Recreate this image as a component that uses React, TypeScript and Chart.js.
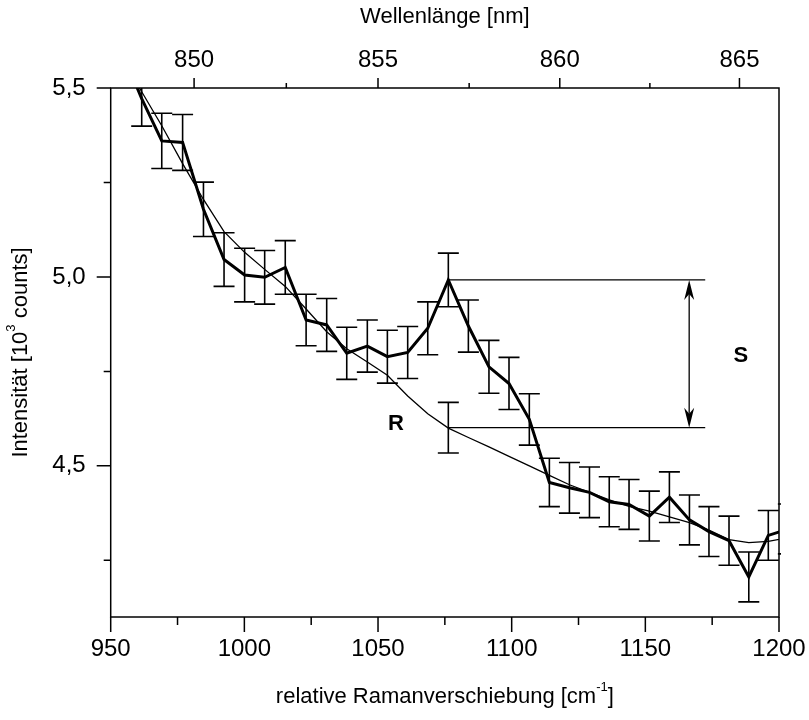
import { useEffect, useRef } from 'react';
import { Chart, registerables } from 'chart.js';

Chart.register(...registerables);

// ---- data ----
const ramanShift = [
  954.0, 961.6, 969.1, 976.9, 984.7, 992.4, 1000.1, 1007.6, 1015.3, 1023.1, 1030.8,
  1038.3, 1046.0, 1053.5, 1061.1, 1068.6, 1076.3, 1083.8, 1091.5, 1099.0, 1106.6,
  1114.1, 1121.6, 1129.1, 1136.5, 1143.9, 1151.5, 1159.0, 1166.5, 1173.8, 1181.3,
  1188.7, 1196.0, 1203.5,
];
const intensity = [
  5.60, 5.472, 5.36, 5.356, 5.179, 5.046, 5.005, 4.999, 5.025, 4.886, 4.873,
  4.798, 4.817, 4.789, 4.800, 4.864, 4.992, 4.870, 4.762, 4.718, 4.623,
  4.456, 4.442, 4.430, 4.405, 4.398, 4.367, 4.417, 4.357, 4.326, 4.302,
  4.206, 4.316, 4.333,
];
const intensityError = [
  0.075, 0.073, 0.073, 0.074, 0.072, 0.071, 0.071, 0.071, 0.071, 0.068, 0.070,
  0.069, 0.069, 0.070, 0.069, 0.070, 0.071, 0.069, 0.070, 0.069, 0.068,
  0.064, 0.067, 0.067, 0.066, 0.066, 0.066, 0.067, 0.066, 0.066, 0.065,
  0.066, 0.066, 0.066,
];
const baselineFit = [
  5.58, 5.49, 5.40, 5.30, 5.205, 5.12, 5.065, 5.02, 4.975, 4.915, 4.855,
  4.81, 4.775, 4.74, 4.685, 4.638, 4.60, 4.575, 4.55, 4.525, 4.50,
  4.475, 4.45, 4.43, 4.41, 4.393, 4.38, 4.365, 4.35, 4.33, 4.305,
  4.297, 4.30, 4.31,
];

const shiftMajorTicks = [950, 1000, 1050, 1100, 1150, 1200];
const shiftMinorTicks = [975, 1025, 1075, 1125, 1175];
const intensityMajorTicks = [4.5, 5.0, 5.5];
const intensityMinorTicks = [4.25, 4.75, 5.25];
const wavelengthMajorTicks = [850, 855, 860, 865];
const wavelengthMinorTicks = [852.5, 857.5, 862.5];
const laserWavenumber = 12745.9; // cm^-1 (excitation ~784.6 nm)

const peakShift = 1076.3;
const peakIntensity = 4.992;
const baselineIntensity = 4.601;
const baselineError = 0.067;
const markerEndShift = 1172.4;
const arrowShift = 1166.4;
const labelR = { x: 1056.7, y: 4.611, text: 'R' };
const labelS = { x: 1185.7, y: 4.792, text: 'S' };

const FONT = "'Liberation Sans', Arial, Helvetica, sans-serif";
const TICK_FS = 24;
const TITLE_FS = 22;

const wavelengthToShift = (nm: number) => laserWavenumber - 1e7 / nm;
const fmtComma = (v: number) => v.toFixed(1).replace('.', ',');

type Part = { t: string; sup?: boolean };

function richWidth(ctx: CanvasRenderingContext2D, parts: Part[], size: number) {
  let w = 0;
  for (const p of parts) {
    ctx.font = `${p.sup ? Math.round(size * 0.6) : size}px ${FONT}`;
    w += ctx.measureText(p.t).width;
  }
  return w;
}

function drawRich(ctx: CanvasRenderingContext2D, parts: Part[], cx: number, cy: number, size: number, rotate: boolean) {
  ctx.save();
  ctx.translate(cx, cy);
  if (rotate) ctx.rotate(-Math.PI / 2);
  const w = richWidth(ctx, parts, size);
  let x = -w / 2;
  ctx.fillStyle = '#000';
  ctx.textBaseline = 'middle';
  ctx.textAlign = 'left';
  for (const p of parts) {
    const s = p.sup ? Math.round(size * 0.6) : size;
    ctx.font = `${s}px ${FONT}`;
    ctx.fillText(p.t, x, p.sup ? -size * 0.42 : 0);
    x += ctx.measureText(p.t).width;
  }
  ctx.restore();
}

const errorBarPlugin = {
  id: 'errorBars',
  beforeDatasetsDraw(chart: any) {
    const { ctx, chartArea: a, scales } = chart;
    const xs = scales.x;
    const ys = scales.y;
    const cap = 10.5;
    ctx.save();
    ctx.beginPath();
    ctx.rect(a.left, a.top, a.right - a.left + 2, a.bottom - a.top);
    ctx.clip();
    ctx.strokeStyle = '#000';
    ctx.lineWidth = 1.6;
    const bar = (sx: number, v: number, e: number) => {
      const px = xs.getPixelForValue(sx);
      const t = ys.getPixelForValue(v + e);
      const b = ys.getPixelForValue(v - e);
      ctx.beginPath();
      ctx.moveTo(px, t);
      ctx.lineTo(px, b);
      ctx.moveTo(px - cap, t);
      ctx.lineTo(px + cap, t);
      ctx.moveTo(px - cap, b);
      ctx.lineTo(px + cap, b);
      ctx.stroke();
    };
    ramanShift.forEach((sx, i) => bar(sx, intensity[i], intensityError[i]));
    bar(peakShift, baselineIntensity, baselineError);
    ctx.restore();
  },
};

const decorPlugin = {
  id: 'decor',
  afterDraw(chart: any) {
    const { ctx, chartArea: a, scales } = chart;
    const xs = scales.x;
    const ys = scales.y;
    ctx.save();
    ctx.strokeStyle = '#000';
    ctx.fillStyle = '#000';

    // frame
    ctx.lineWidth = 1.5;
    ctx.strokeRect(a.left, a.top, a.right - a.left, a.bottom - a.top);

    // ticks
    ctx.lineWidth = 1.5;
    ctx.beginPath();
    const tickX = (v: number, len: number, top: boolean) => {
      const px = xs.getPixelForValue(v);
      const y0 = top ? a.top : a.bottom;
      ctx.moveTo(px, y0);
      ctx.lineTo(px, top ? y0 - len : y0 + len);
    };
    shiftMajorTicks.forEach((v) => tickX(v, 15, false));
    shiftMinorTicks.forEach((v) => tickX(v, 8, false));
    wavelengthMajorTicks.forEach((w) => tickX(wavelengthToShift(w), 10, true));
    wavelengthMinorTicks.forEach((w) => tickX(wavelengthToShift(w), 5, true));
    const tickY = (v: number, len: number) => {
      const py = ys.getPixelForValue(v);
      ctx.moveTo(a.left, py);
      ctx.lineTo(a.left - len, py);
    };
    intensityMajorTicks.forEach((v) => tickY(v, 14));
    intensityMinorTicks.forEach((v) => tickY(v, 7));
    ctx.stroke();

    // S marker lines
    const px0 = xs.getPixelForValue(peakShift);
    const px1 = xs.getPixelForValue(markerEndShift);
    const pyPeak = ys.getPixelForValue(peakIntensity);
    const pyBase = ys.getPixelForValue(baselineIntensity);
    ctx.lineWidth = 1.3;
    ctx.beginPath();
    ctx.moveTo(px0, pyPeak);
    ctx.lineTo(px1, pyPeak);
    ctx.moveTo(px0, pyBase);
    ctx.lineTo(px1, pyBase);
    ctx.stroke();

    // double arrow
    const ax = xs.getPixelForValue(arrowShift);
    const headL = 20;
    const headW = 5;
    ctx.beginPath();
    ctx.moveTo(ax, pyPeak + headL - 6);
    ctx.lineTo(ax, pyBase - headL + 6);
    ctx.stroke();
    const head = (tipY: number, dir: number) => {
      ctx.beginPath();
      ctx.moveTo(ax, tipY);
      ctx.lineTo(ax - headW, tipY + dir * headL);
      ctx.lineTo(ax, tipY + dir * (headL - 6));
      ctx.lineTo(ax + headW, tipY + dir * headL);
      ctx.closePath();
      ctx.fill();
    };
    head(pyPeak, 1);
    head(pyBase, -1);

    // labels R and S
    ctx.font = `bold ${TITLE_FS}px ${FONT}`;
    ctx.textAlign = 'center';
    ctx.textBaseline = 'middle';
    ctx.fillText(labelR.text, xs.getPixelForValue(labelR.x), ys.getPixelForValue(labelR.y));
    ctx.fillText(labelS.text, xs.getPixelForValue(labelS.x), ys.getPixelForValue(labelS.y));

    // axis titles
    const cx = (a.left + a.right) / 2;
    drawRich(ctx, [{ t: 'Wellenlänge [nm]' }], cx, 17, TITLE_FS, false);
    drawRich(ctx, [{ t: 'relative Ramanverschiebung [cm' }, { t: '-1', sup: true }, { t: ']' }], cx, 697, TITLE_FS, false);
    drawRich(ctx, [{ t: 'Intensität [10' }, { t: '3', sup: true }, { t: ' counts]' }], 21, (a.top + a.bottom) / 2, TITLE_FS, true);

    ctx.restore();
  },
};

export default function App() {
  const ref = useRef<HTMLCanvasElement>(null);
  useEffect(() => {
    const canvas = ref.current;
    if (!canvas) return;
    const tickFont = { family: FONT, size: TICK_FS };
    const noSidePad = (s: any) => {
      s.paddingLeft = 0;
      s.paddingRight = 0;
      s.paddingTop = 0;
      s.paddingBottom = 0;
    };
    const chart = new Chart(canvas, {
      type: 'line',
      data: {
        datasets: [
          {
            label: 'Messung',
            data: ramanShift.map((x, i) => ({ x, y: intensity[i] })),
            borderColor: '#000',
            borderWidth: 3,
            pointRadius: 0,
            tension: 0,
            fill: false,
          },
          {
            label: 'Untergrund',
            data: ramanShift.map((x, i) => ({ x, y: baselineFit[i] })),
            borderColor: '#000',
            borderWidth: 1.3,
            pointRadius: 0,
            tension: 0,
            fill: false,
          },
        ],
      },
      options: {
        animation: false,
        responsive: false,
        devicePixelRatio: 1,
        events: [],
        layout: { padding: { left: 0, right: 30, top: 0, bottom: 0 } },
        plugins: { legend: { display: false }, tooltip: { enabled: false } },
        scales: {
          x: {
            type: 'linear',
            position: 'bottom',
            min: 950,
            max: 1200,
            grid: { display: false, drawTicks: false },
            border: { display: false },
            afterFit: (s: any) => { s.height = 103; noSidePad(s); },
            afterBuildTicks: (s: any) => { s.ticks = shiftMajorTicks.map((v) => ({ value: v })); },
            ticks: {
              autoSkip: false,
              maxRotation: 0,
              padding: 18,
              color: '#000',
              font: tickFont,
              callback: (v: any) => String(v),
            },
          },
          x2: {
            type: 'linear',
            position: 'top',
            min: 950,
            max: 1200,
            grid: { display: false, drawTicks: false },
            border: { display: false },
            afterFit: (s: any) => { s.height = 88; noSidePad(s); },
            afterBuildTicks: (s: any) => {
              s.ticks = wavelengthMajorTicks.map((w) => ({ value: wavelengthToShift(w) }));
            },
            ticks: {
              autoSkip: false,
              maxRotation: 0,
              padding: 13,
              color: '#000',
              font: tickFont,
              callback: (_v: any, i: number) => String(wavelengthMajorTicks[i]),
            },
          },
          y: {
            type: 'linear',
            position: 'left',
            min: 4.1,
            max: 5.5,
            grid: { display: false, drawTicks: false },
            border: { display: false },
            afterFit: (s: any) => { s.width = 110.7; noSidePad(s); },
            afterBuildTicks: (s: any) => { s.ticks = intensityMajorTicks.map((v) => ({ value: v })); },
            ticks: {
              autoSkip: false,
              padding: 25,
              color: '#000',
              font: tickFont,
              callback: (v: any) => fmtComma(Number(v)),
            },
          },
        },
      },
      plugins: [errorBarPlugin, decorPlugin],
    } as any);
    return () => chart.destroy();
  }, []);

  return (
    <div style={{ position: 'fixed', left: 0, top: 0, width: 809, height: 720, background: '#fff' }}>
      <canvas ref={ref} width={809} height={720} style={{ display: 'block', width: 809, height: 720 }} />
    </div>
  );
}
